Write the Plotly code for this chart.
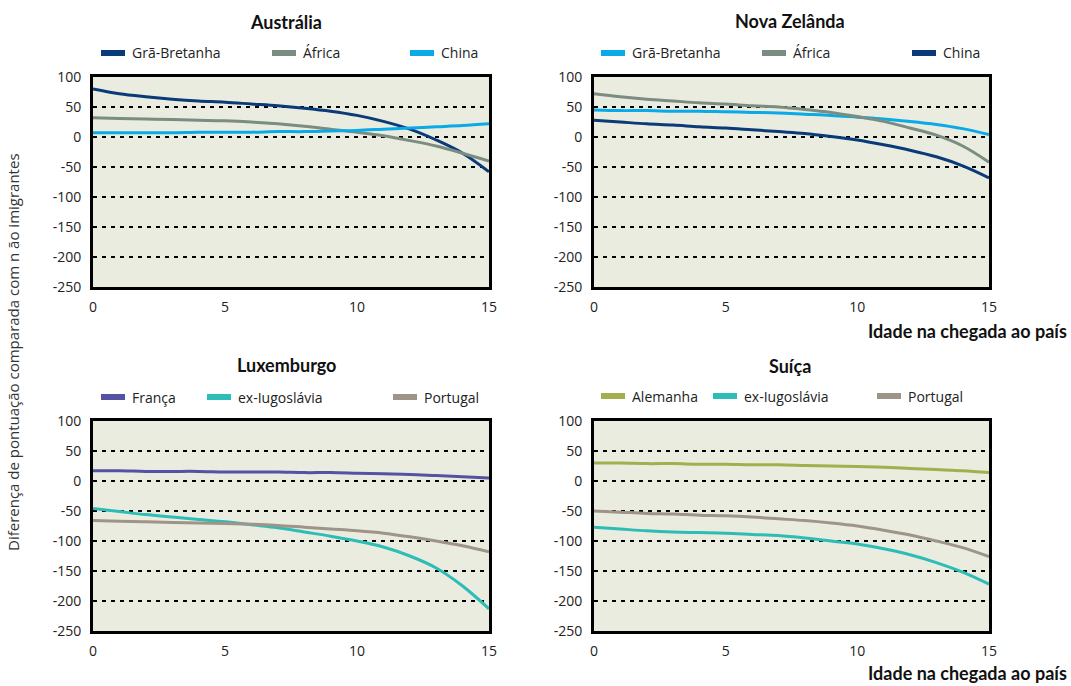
import plotly.graph_objects as go

W, H = 1071, 686

ages = list(range(0, 16))

# Austrália
aus_names = ["Grã-Bretanha", "África", "China"]
aus_gb = [80, 72, 67, 63, 60, 58, 55, 52, 48, 43, 36, 26, 13, -5, -27, -58]
aus_africa = [32, 31, 30, 29, 28, 27, 25, 22, 18, 13, 8, 2, -6, -15, -27, -40]
aus_china = [7, 7, 7, 7, 8, 8, 8, 9, 9, 10, 11, 13, 15, 17, 19, 22]

# Nova Zelândia
nz_names = ["Grã-Bretanha", "África", "China"]
nz_gb = [45, 44, 44, 43, 43, 42, 41, 40, 38, 36, 33, 30, 26, 21, 14, 4]
nz_africa = [72, 67, 63, 60, 57, 55, 52, 50, 46, 41, 34, 26, 15, 3, -15, -42]
nz_china = [28, 25, 22, 20, 17, 15, 12, 9, 6, 1, -5, -13, -22, -33, -48, -68]

# Luxemburgo
lux_names = ["França", "ex-Iugoslávia", "Portugal"]
lux_fr = [17, 17, 16, 16, 16, 15, 15, 15, 14, 14, 13, 12, 11, 9, 7, 5]
lux_yu = [-46, -51, -56, -60, -64, -68, -73, -78, -85, -92, -100, -110, -125, -145, -175, -213]
lux_pt = [-66, -67, -68, -69, -70, -71, -72, -74, -77, -80, -83, -87, -93, -100, -108, -118]

# Suíça
sui_names = ["Alemanha", "ex-Iugoslávia", "Portugal"]
sui_de = [30, 30, 29, 29, 28, 28, 27, 27, 26, 25, 24, 23, 21, 19, 17, 14]
sui_yu = [-77, -80, -83, -85, -86, -87, -89, -91, -95, -100, -105, -113, -123, -136, -152, -172]
sui_pt = [-50, -52, -54, -55, -57, -58, -60, -63, -66, -70, -75, -82, -90, -100, -111, -126]

titles = ["Austrália", "Nova Zelânda", "Luxemburgo", "Suíça"]
y_ticks = [100, 50, 0, -50, -100, -150, -200, -250]
y_tick_labels = ["100", "50", "0", "-50", "-100", "-150", "-200", "-250"]
x_ticks = [0, 5, 10, 15]
x_title = "Idade na chegada ao país"
y_title = "Diferença de pontuação comparada com n ão imigrantes"

NAVY = "#0B3A78"
GREYG = "#7B8C80"
LBLUE = "#0AAAE8"
VIOLET = "#5652A3"
TEAL = "#2DBDB6"
TAUPE = "#9F9488"
OLIVE = "#A3AE4E"
BG = "#E9ECDF"

panels = [
    dict(names=aus_names, series=[aus_gb, aus_africa, aus_china], colors=[NAVY, GREYG, LBLUE],
         xpx=(93, 489), ypx=(77, 287), leg_x=[101, 272, 410], leg_y=53, title_x=286, title_y=22),
    dict(names=nz_names, series=[nz_gb, nz_africa, nz_china], colors=[LBLUE, GREYG, NAVY],
         xpx=(594, 989), ypx=(77, 287), leg_x=[601, 762, 912], leg_y=53, title_x=790, title_y=21),
    dict(names=lux_names, series=[lux_fr, lux_yu, lux_pt], colors=[VIOLET, TEAL, TAUPE],
         xpx=(93, 489), ypx=(421, 631), leg_x=[101, 207, 393], leg_y=397, title_x=286, title_y=365),
    dict(names=sui_names, series=[sui_de, sui_yu, sui_pt], colors=[OLIVE, TEAL, TAUPE],
         xpx=(594, 989), ypx=(421, 631), leg_x=[601, 713, 877], leg_y=396, title_x=790, title_y=366),
]

def px(x):
    return x / W

def py(y):
    return 1 - y / H

FONT = "'Open Sans', Lato, sans-serif"
BFONT = "Lato, 'Open Sans', sans-serif"

fig = go.Figure()
shapes = []
annotations = []

for i, p in enumerate(panels):
    k = "" if i == 0 else str(i + 1)
    xa, ya = "x" + k, "y" + k
    for name, vals, col in zip(p["names"], p["series"], p["colors"]):
        fig.add_trace(go.Scatter(x=ages, y=vals, name=name, mode="lines",
                                 line=dict(color=col, width=3, shape="spline", smoothing=1.0),
                                 xaxis=xa, yaxis=ya, showlegend=False, hoverinfo="x+y+name"))
    axis_common = dict(showline=True, mirror=True, linecolor="black", linewidth=3,
                       ticks="outside", tickcolor="rgba(0,0,0,0)", automargin=False,
                       tickfont=dict(family=FONT, size=14, color="#222"), fixedrange=True)
    fig.layout["xaxis" + k] = dict(axis_common, domain=[px(p["xpx"][0]), px(p["xpx"][1])],
                                   range=[0, 15], tickvals=x_ticks, ticklen=5,
                                   showgrid=False, zeroline=False, anchor=ya)
    fig.layout["yaxis" + k] = dict(axis_common, domain=[py(p["ypx"][1]), py(p["ypx"][0])],
                                   range=[-250, 100], tickvals=y_ticks, ticktext=y_tick_labels,
                                   ticklen=6, showgrid=True, gridcolor="black", gridwidth=2,
                                   griddash="4px,5px", zeroline=False, anchor=xa)
    # title
    annotations.append(dict(text="<b>" + titles[i] + "</b>", x=px(p["title_x"]), y=py(p["title_y"]),
                            xref="paper", yref="paper", showarrow=False, xanchor="center",
                            yanchor="middle", font=dict(family=BFONT, size=18, color="#111")))
    # legend entries
    for name, col, lx in zip(p["names"], p["colors"], p["leg_x"]):
        shapes.append(dict(type="rect", xref="paper", yref="paper",
                           x0=px(lx), x1=px(lx + 24), y0=py(p["leg_y"] + 3), y1=py(p["leg_y"] - 3),
                           fillcolor=col, line=dict(width=0)))
        annotations.append(dict(text=name, x=px(lx + 29), y=py(p["leg_y"]), xref="paper", yref="paper",
                                showarrow=False, xanchor="left", yanchor="middle",
                                font=dict(family=FONT, size=14, color="#222")))

# x-axis titles
for yy in (331, 673):
    annotations.append(dict(text="<b>" + x_title + "</b>", x=px(1069), y=py(yy), xref="paper", yref="paper",
                            showarrow=False, xanchor="right", yanchor="middle",
                            font=dict(family=BFONT, size=18, color="#111")))
# y-axis title
annotations.append(dict(text=y_title, x=px(13), y=py(352), xref="paper", yref="paper",
                        showarrow=False, xanchor="center", yanchor="middle", textangle=-90,
                        font=dict(family=FONT, size=15, color="#333")))

fig.update_layout(width=W, height=H, margin=dict(l=0, r=0, t=0, b=0, pad=0, autoexpand=False),
                  paper_bgcolor="white", plot_bgcolor=BG,
                  shapes=shapes, annotations=annotations, showlegend=False)

fig.write_html("out.html", post_script="document.body.style.margin='0';",
               config={"displayModeBar": False})
